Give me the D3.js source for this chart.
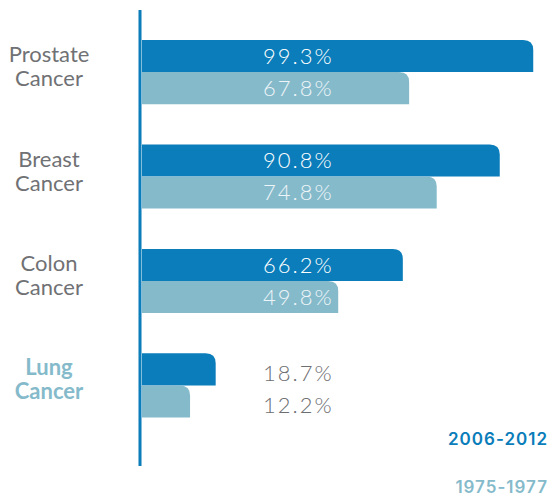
<!DOCTYPE html>
<html>
<head>
<meta charset="utf-8">
<script src="https://cdn.jsdelivr.net/npm/d3@7"></script>
<style>
  html, body { margin: 0; padding: 0; background: #fff; }
  svg { display: block; }
</style>
</head>
<body>
<div id="chart"></div>
<script>
// data
var categories = ['Prostate Cancer', 'Breast Cancer', 'Colon Cancer', 'Lung Cancer'];
var periods = ['2006-2012', '1975-1977'];
var recent = [99.3, 90.8, 66.2, 18.7];
var early = [67.8, 74.8, 49.8, 12.2];
var highlight = 'Lung Cancer';

var colors = {'2006-2012': '#0a7dba', '1975-1977': '#85bacb'};

var width = 552, height = 496;
var axisX = 140;

var svg = d3.select('#chart').append('svg')
  .attr('width', width)
  .attr('height', height);

var x = d3.scaleLinear()
  .domain([0, 100])
  .range([axisX + 2, axisX + 2 + 394]);

var y = d3.scaleBand()
  .domain(categories)
  .range([40, 417.5])
  .paddingInner(0.386)
  .paddingOuter(0);

var ySub = d3.scaleBand()
  .domain(periods)
  .range([0, y.bandwidth()]);

var rows = categories.map(function (c, i) {
  return {name: c, values: [
    {period: periods[0], value: recent[i]},
    {period: periods[1], value: early[i]}
  ]};
});

// rounded top-right corner only
function barPath(x0, y0, w, h, r) {
  r = Math.min(r, w, h);
  return 'M' + x0 + ',' + y0 +
    'H' + (x0 + w - r) +
    'Q' + (x0 + w) + ',' + y0 + ' ' + (x0 + w) + ',' + (y0 + r) +
    'V' + (y0 + h) +
    'H' + x0 + 'Z';
}

var labelX = x(0) + 121;

var group = svg.append('g').selectAll('g')
  .data(rows)
  .enter().append('g')
  .attr('transform', function (d) { return 'translate(0,' + y(d.name) + ')'; });

group.selectAll('path')
  .data(function (d) { return d.values; })
  .enter().append('path')
  .attr('d', function (d) {
    return barPath(x(0), ySub(d.period), x(d.value) - x(0), ySub.bandwidth(), 10);
  })
  .attr('fill', function (d) { return colors[d.period]; });

function inside(d) { return x(d.value) > labelX + 75; }

group.selectAll('text.value')
  .data(function (d) { return d.values; })
  .enter().append('text')
  .attr('class', 'value')
  .attr('x', labelX)
  .attr('y', function (d) {
    return ySub(d.period) + ySub.bandwidth() / 2 + (inside(d) ? 0 : 4);
  })
  .attr('dy', '0.36em')
  .attr('font-family', 'Lato, sans-serif')
  .attr('font-weight', 300)
  .attr('font-size', 22)
  .attr('letter-spacing', 2)
  .attr('fill', function (d) {
    if (inside(d)) {
      return d.period === periods[0] ? '#ffffff' : '#eef5f8';
    }
    return '#6d6e71';
  })
  .text(function (d) { return d3.format('.1f')(d.value) + '%'; });

// category labels, two lines each
group.append('text')
  .attr('text-anchor', 'middle')
  .attr('font-family', 'Lato, sans-serif')
  .attr('font-size', 22)
  .attr('font-weight', function (d) { return d.name === highlight ? 700 : 400; })
  .attr('fill', function (d) { return d.name === highlight ? '#85bacb' : '#707174'; })
  .selectAll('tspan')
  .data(function (d) { return d.name.split(' '); })
  .enter().append('tspan')
  .attr('x', 49)
  .attr('y', function (d, i) { return y.bandwidth() / 2 - 10 + i * 24; })
  .text(function (d) { return d; });

// axis line
svg.append('line')
  .attr('x1', axisX).attr('x2', axisX)
  .attr('y1', 10).attr('y2', 466)
  .attr('stroke', colors['2006-2012'])
  .attr('stroke-width', 3);

// legend
svg.append('g').selectAll('text')
  .data(periods)
  .enter().append('text')
  .attr('x', 548)
  .attr('y', function (d, i) { return 445 + i * 48; })
  .attr('text-anchor', 'end')
  .attr('font-family', 'Inter, sans-serif')
  .attr('font-weight', 600)
  .attr('font-size', 17)
  .attr('letter-spacing', 1)
  .attr('fill', function (d) { return colors[d]; })
  .text(function (d) { return d; });
</script>
</body>
</html>
